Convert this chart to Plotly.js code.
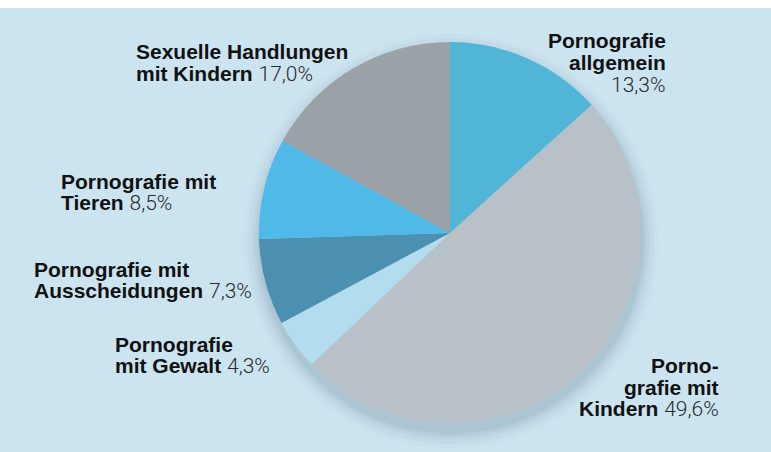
<!DOCTYPE html>
<html>
<head>
<meta charset="utf-8">
<script src="https://cdn.plot.ly/plotly-3.0.1.min.js"></script>
<style>html,body{margin:0;padding:0;background:#fff;}#chart{width:771px;height:452px;}</style>
</head>
<body>
<div id="chart"></div>
<script>
const categories = ["Pornografie allgemein", "Pornografie mit Kindern", "Pornografie mit Gewalt", "Pornografie mit Ausscheidungen", "Pornografie mit Tieren", "Sexuelle Handlungen mit Kindern"];
const shares = [13.3, 49.6, 4.3, 7.3, 8.5, 17.0];
const labelLines = [["Pornografie", "allgemein", ""], ["Porno-", "grafie mit", "Kindern"], ["Pornografie", "mit Gewalt"], ["Pornografie mit", "Ausscheidungen"], ["Pornografie mit", "Tieren"], ["Sexuelle Handlungen", "mit Kindern"]];
const colors = ["#50b5d7", "#b8c0c8", "#b4dcef", "#4b8fb1", "#4fb9e7", "#9aa2a8"];

// label placement (pixels): x, centre of first line, anchor
const labelPos = [
  {x: 668, y: 40, a: "right"},
  {x: 721, y: 364, a: "right"},
  {x: 113, y: 343, a: "left"},
  {x: 32, y: 268, a: "left"},
  {x: 59, y: 180, a: "left"},
  {x: 134, y: 51, a: "left"}
];
const lineGap = 22;

const W = 771, H = 452;
const cx = 450, cy = 233, r = 191;

function fmt(v) { return v.toFixed(1).replace(".", ",") + "%"; }

const annotations = [];
categories.forEach((c, i) => {
  const lines = labelLines[i];
  const pct = '<span style="font-family:Roboto;font-weight:300;color:#2a2a2a">' + fmt(shares[i]) + '</span>';
  const last = lines.length - 1;
  const p = labelPos[i];
  lines.forEach((l, j) => {
    let t = '<b>' + l + '</b>';
    if (j === last) t = (l ? '<b>' + l + '</b> ' : '') + pct;
    annotations.push({
      xref: "paper", yref: "paper",
      x: p.x / W, y: 1 - (p.y + j * lineGap + 1) / H,
      xanchor: p.a, yanchor: "middle", align: p.a,
      showarrow: false,
      text: t,
      font: {family: "Liberation Sans, Arial, sans-serif", size: 21, color: "#111"}
    });
  });
});

const shapes = [
  {type: "rect", xref: "paper", yref: "paper", x0: 0, x1: 1, y0: 0, y1: 1 - 8 / H, fillcolor: "#cce4f0", line: {width: 0}, layer: "below"}
];
// soft shadow around pie
const shadowSteps = [[16, 0.02], [12, 0.03], [8, 0.04], [5, 0.05], [2, 0.06]];
shadowSteps.forEach(([d, o]) => {
  const ox = 1, oy = 8;
  shapes.push({
    type: "circle", xref: "paper", yref: "paper", layer: "below",
    x0: (cx + ox - r - d) / W, x1: (cx + ox + r + d) / W,
    y0: 1 - (cy + oy + r + d) / H, y1: 1 - (cy + oy - r - d) / H,
    fillcolor: "rgba(40,70,90," + o + ")", line: {width: 0}
  });
});

const data = [{
  type: "pie",
  labels: categories,
  values: shares,
  sort: false,
  direction: "clockwise",
  rotation: 0,
  marker: {colors: colors, line: {width: 0}},
  textinfo: "none",
  hoverinfo: "label+percent",
  showlegend: false,
  domain: {x: [(cx - r) / W, (cx + r) / W], y: [1 - (cy + r) / H, 1 - (cy - r) / H]}
}];

const layout = {
  width: W, height: H,
  margin: {l: 0, r: 0, t: 0, b: 0},
  paper_bgcolor: "#ffffff",
  showlegend: false,
  shapes: shapes,
  annotations: annotations
};

Plotly.newPlot("chart", data, layout, {displayModeBar: false, staticPlot: true});
</script>
</body>
</html>
